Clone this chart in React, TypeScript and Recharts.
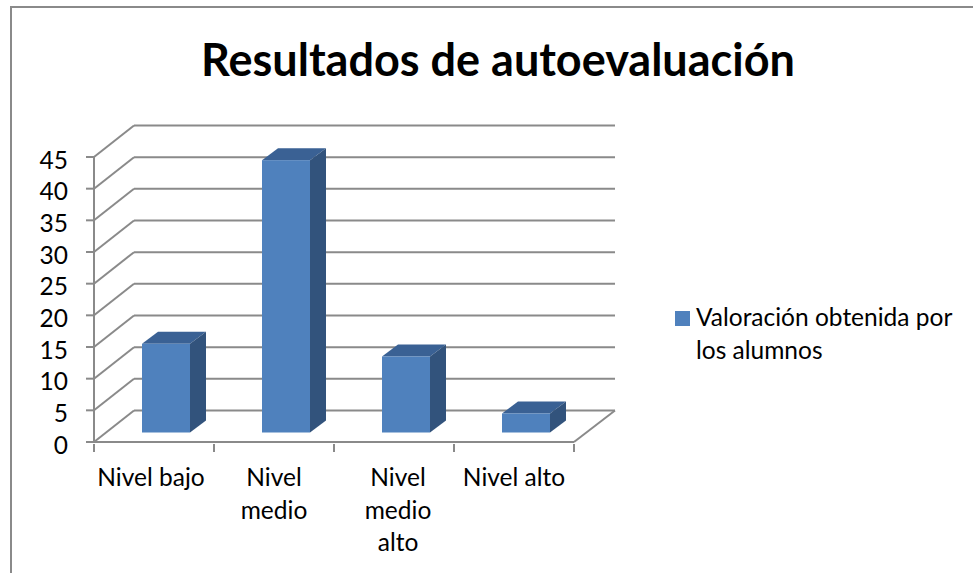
import { BarChart, Bar, XAxis, YAxis, CartesianGrid, Legend } from 'recharts';

const categories = ['Nivel bajo', 'Nivel medio', 'Nivel medio alto', 'Nivel alto'];
const categoryLines = [['Nivel bajo'], ['Nivel', 'medio'], ['Nivel', 'medio', 'alto'], ['Nivel alto']];
const values = [14, 43, 12, 3];
const yTicks = [0, 5, 10, 15, 20, 25, 30, 35, 40, 45];
const seriesName = 'Valoración obtenida por los alumnos';

const data = categories.map((name, i) => ({ name, value: values[i] }));

const FONT = 'Lato, "Open Sans", sans-serif';
const AXIS_GRAY = '#8a8a8a';
const LINE_W = 2;
const LABEL_SIZE = 24.5;
const WALL_DX = 40;
const WALL_DY = 31.5;
const BAND = 120;
const labelNudge = [-3, 0, 4, 0];

// oblique side-wall line plus the back-wall line for each y tick
function GridLine(props: any) {
  const { x1, x2, y1, y, height } = props;
  const isFloor = y1 >= y + height - 1;
  return (
    <g stroke={AXIS_GRAY} strokeWidth={LINE_W} fill="none">
      <line x1={x1} y1={y1} x2={x1 + WALL_DX} y2={y1 - WALL_DY} />
      <line x1={x1 + WALL_DX} y1={y1 - WALL_DY} x2={x2 + 41} y2={y1 - WALL_DY} />
      {isFloor && <line x1={x2} y1={y1} x2={x2 + 41} y2={y1 - WALL_DY} />}
    </g>
  );
}

// fake 3D column, pushed back a little from the axis plane
function Column3D(props: any) {
  const { x, y, width, height } = props;
  const left = x + 12;
  const right = left + width;
  const top = y - 9.5;
  const bottom = top + height;
  const dx = 16;
  const dy = 12;
  return (
    <g>
      <path d={`M${left} ${top}L${left + dx} ${top - dy}L${right + dx} ${top - dy}L${right} ${top}Z`} fill="#3a6194" />
      <path d={`M${right} ${top}L${right + dx} ${top - dy}L${right + dx} ${bottom - dy}L${right} ${bottom}Z`} fill="#32537c" />
      <rect x={left} y={top} width={width} height={height} fill="#4f81bd" />
    </g>
  );
}

function CategoryTick(props: any) {
  const { x, y, payload, index } = props;
  const i = payload.index ?? index;
  const lines = categoryLines[i];
  const last = i === categories.length - 1;
  const labelX = x + labelNudge[i];
  return (
    <g>
      <line x1={x - BAND / 2} y1={y - 8} x2={x - BAND / 2} y2={y} stroke={AXIS_GRAY} strokeWidth={LINE_W} />
      {last && <line x1={x + BAND / 2} y1={y - 8} x2={x + BAND / 2} y2={y} stroke={AXIS_GRAY} strokeWidth={LINE_W} />}
      <text x={labelX} y={y + 34} textAnchor="middle" fontSize={LABEL_SIZE} fontFamily={FONT} fill="#000">
        {lines.map((line, n) => (
          <tspan key={line} x={labelX} dy={n === 0 ? 0 : 32.5}>{line}</tspan>
        ))}
      </text>
    </g>
  );
}

function LegendBox({ payload }: any) {
  const item = payload?.[0];
  if (!item) return null;
  return (
    <div style={{ display: 'flex', alignItems: 'flex-start', fontFamily: FONT, fontSize: LABEL_SIZE, lineHeight: '33px', color: '#000' }}>
      <span style={{ width: 15, height: 15, background: item.color, marginTop: 11, marginRight: 6, flex: 'none' }} />
      <span style={{ width: 275 }}>{item.value}</span>
    </div>
  );
}

export default function App() {
  return (
    <div style={{ position: 'absolute', left: 0, top: 0, width: 973, height: 573, overflow: 'hidden', background: '#fff' }}>
      <div style={{ position: 'absolute', left: 10, top: 6, width: 1000, height: 600, borderLeft: `2px solid ${AXIS_GRAY}`, borderTop: `2px solid ${AXIS_GRAY}` }} />
      <div style={{ position: 'absolute', left: 0, top: 34, width: 996, textAlign: 'center', fontFamily: FONT, fontWeight: 700, fontSize: 45, lineHeight: '50px', color: '#000' }}>
        Resultados de autoevaluación
      </div>
      <div style={{ position: 'absolute', left: 0, top: 0 }}>
        <BarChart
          width={973}
          height={573}
          data={data}
          barCategoryGap="30%"
          margin={{ top: 157, right: 101, bottom: 0, left: 0 }}
        >
          <CartesianGrid vertical={false} horizontal={(p: any) => <GridLine key={p.key ?? p.y1} {...p} />} />
          <XAxis
            dataKey="name"
            height={131}
            interval={0}
            tickLine={false}
            tick={CategoryTick}
            tickSize={8}
            axisLine={{ stroke: AXIS_GRAY, strokeWidth: LINE_W }}
          />
          <YAxis
            width={94}
            domain={[0, 45]}
            ticks={yTicks}
            interval={0}
            tickSize={8}
            tickMargin={18}
            tick={{ fontSize: LABEL_SIZE, fontFamily: FONT, fill: '#000', dy: 3 }}
            tickLine={{ stroke: AXIS_GRAY, strokeWidth: LINE_W }}
            axisLine={{ stroke: AXIS_GRAY, strokeWidth: LINE_W }}
          />
          <Bar dataKey="value" name={seriesName} fill="#4f81bd" shape={Column3D} isAnimationActive={false} />
          <Legend
            layout="vertical"
            align="right"
            verticalAlign="middle"
            content={LegendBox}
            wrapperStyle={{ left: 675, top: 300, right: 'auto', width: 298 }}
          />
        </BarChart>
      </div>
    </div>
  );
}
